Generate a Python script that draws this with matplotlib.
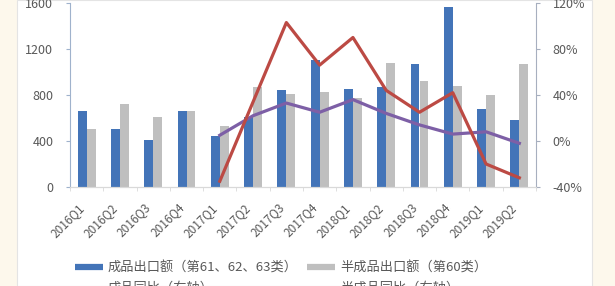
import matplotlib
matplotlib.use("Agg")
import matplotlib.pyplot as plt
import numpy as np
from matplotlib.lines import Line2D
from matplotlib.patches import Rectangle
from matplotlib.ticker import FuncFormatter

plt.rcParams['font.family'] = ['Noto Sans CJK SC', 'DejaVu Sans']

# Data
quarters = ["2016Q1", "2016Q2", "2016Q3", "2016Q4",
            "2017Q1", "2017Q2", "2017Q3", "2017Q4",
            "2018Q1", "2018Q2", "2018Q3", "2018Q4",
            "2019Q1", "2019Q2"]
finished = [665, 504, 409, 661, 443, 609, 843, 1104, 852, 870, 1070, 1565, 678, 583]
semi = [504, 722, 609, 661, 530, 870, 809, 826, 775, 1078, 922, 878, 800, 1070]
# year-on-year growth (%), starts at 2017Q1
finished_yoy = [5, 22, 33, 25, 36, 24, 14, 6, 8, -2]
semi_yoy = [-35, 34, 103, 66, 90, 44, 25, 42, -20, -32]

label_fin = "成品出口额（第61、62、63类）"
label_semi = "半成品出口额（第60类）"
label_fin_yoy = "成品同比（右轴）"
label_semi_yoy = "半成品同比（右轴）"

c_blue = "#4374B8"
c_gray = "#BFBFBF"
c_red = "#BC4A44"
c_purple = "#7D5FA6"
c_text = "#595959"

fig = plt.figure(figsize=(6.15, 2.86), dpi=100)
fig.patch.set_facecolor("#FDF8EC")
fig.patches.append(Rectangle((17 / 615, 0), 575 / 615, 1, transform=fig.transFigure,
                             facecolor="white", edgecolor="#E4E4E4", lw=0.8, zorder=-10))

ax = fig.add_axes([70 / 615, 1 - 187 / 286, 466 / 615, 184 / 286])
ax.set_facecolor("none")
ax2 = ax.twinx()

x = np.arange(len(quarters))
w = 0.27
ax.bar(x - w / 2, finished, w, color=c_blue, zorder=2)
ax.bar(x + w / 2, semi, w, color=c_gray, zorder=2)

xl = x[4:]
ax2.plot(xl, finished_yoy, color=c_purple, lw=2.3, zorder=3)
ax2.plot(xl, semi_yoy, color=c_red, lw=2.3, zorder=4)

ax.set_xlim(-0.5, len(quarters) - 0.5)
ax.set_ylim(0, 1600)
ax.set_yticks([0, 400, 800, 1200, 1600])
ax2.set_ylim(-40, 120)
ax2.set_yticks([-40, 0, 40, 80, 120])
ax2.yaxis.set_major_formatter(FuncFormatter(lambda v, p: "%d%%" % v))

ax.set_xticks(x)
ax.set_xticklabels(quarters, rotation=45, ha="right", fontsize=8.5, color=c_text)
ax.set_xticks(np.arange(-0.5, len(quarters)), minor=True)
ax.tick_params(axis="x", which="major", length=0, pad=10)
ax.tick_params(axis="x", which="minor", length=3, color="#D9D9D9")
ax.tick_params(axis="y", length=3, color="#9FB2CC", labelsize=9, labelcolor=c_text, pad=9)
ax2.tick_params(axis="y", length=3, color="#A7AFBF", labelsize=9, labelcolor=c_text, pad=9)
for t in ax.get_xticklabels():
    t.set_x(t.get_position()[0])

for a in (ax, ax2):
    a.spines["top"].set_visible(False)
    a.spines["bottom"].set_color("#D9D9D9")
ax.spines["right"].set_visible(False)
ax.spines["left"].set_color("#9FB2CC")
ax2.spines["left"].set_visible(False)
ax2.spines["right"].set_color("#A7AFBF")

handles = [Line2D([], [], color=c_blue, lw=4.5, solid_capstyle="butt"),
           Line2D([], [], color=c_purple, lw=2.3),
           Line2D([], [], color=c_gray, lw=4.5, solid_capstyle="butt"),
           Line2D([], [], color=c_red, lw=2.3)]
labels = [label_fin, label_fin_yoy, label_semi, label_semi_yoy]
fig.legend(handles, labels, ncol=2, loc="upper left", bbox_to_anchor=(75 / 615, 1 - 262 / 286),
           frameon=False, fontsize=9.5, labelcolor=c_text, handlelength=2.1,
           handletextpad=0.4, columnspacing=0.7, labelspacing=0.5,
           borderpad=0, borderaxespad=0)

fig.savefig("out.png", dpi=100, facecolor=fig.get_facecolor())
